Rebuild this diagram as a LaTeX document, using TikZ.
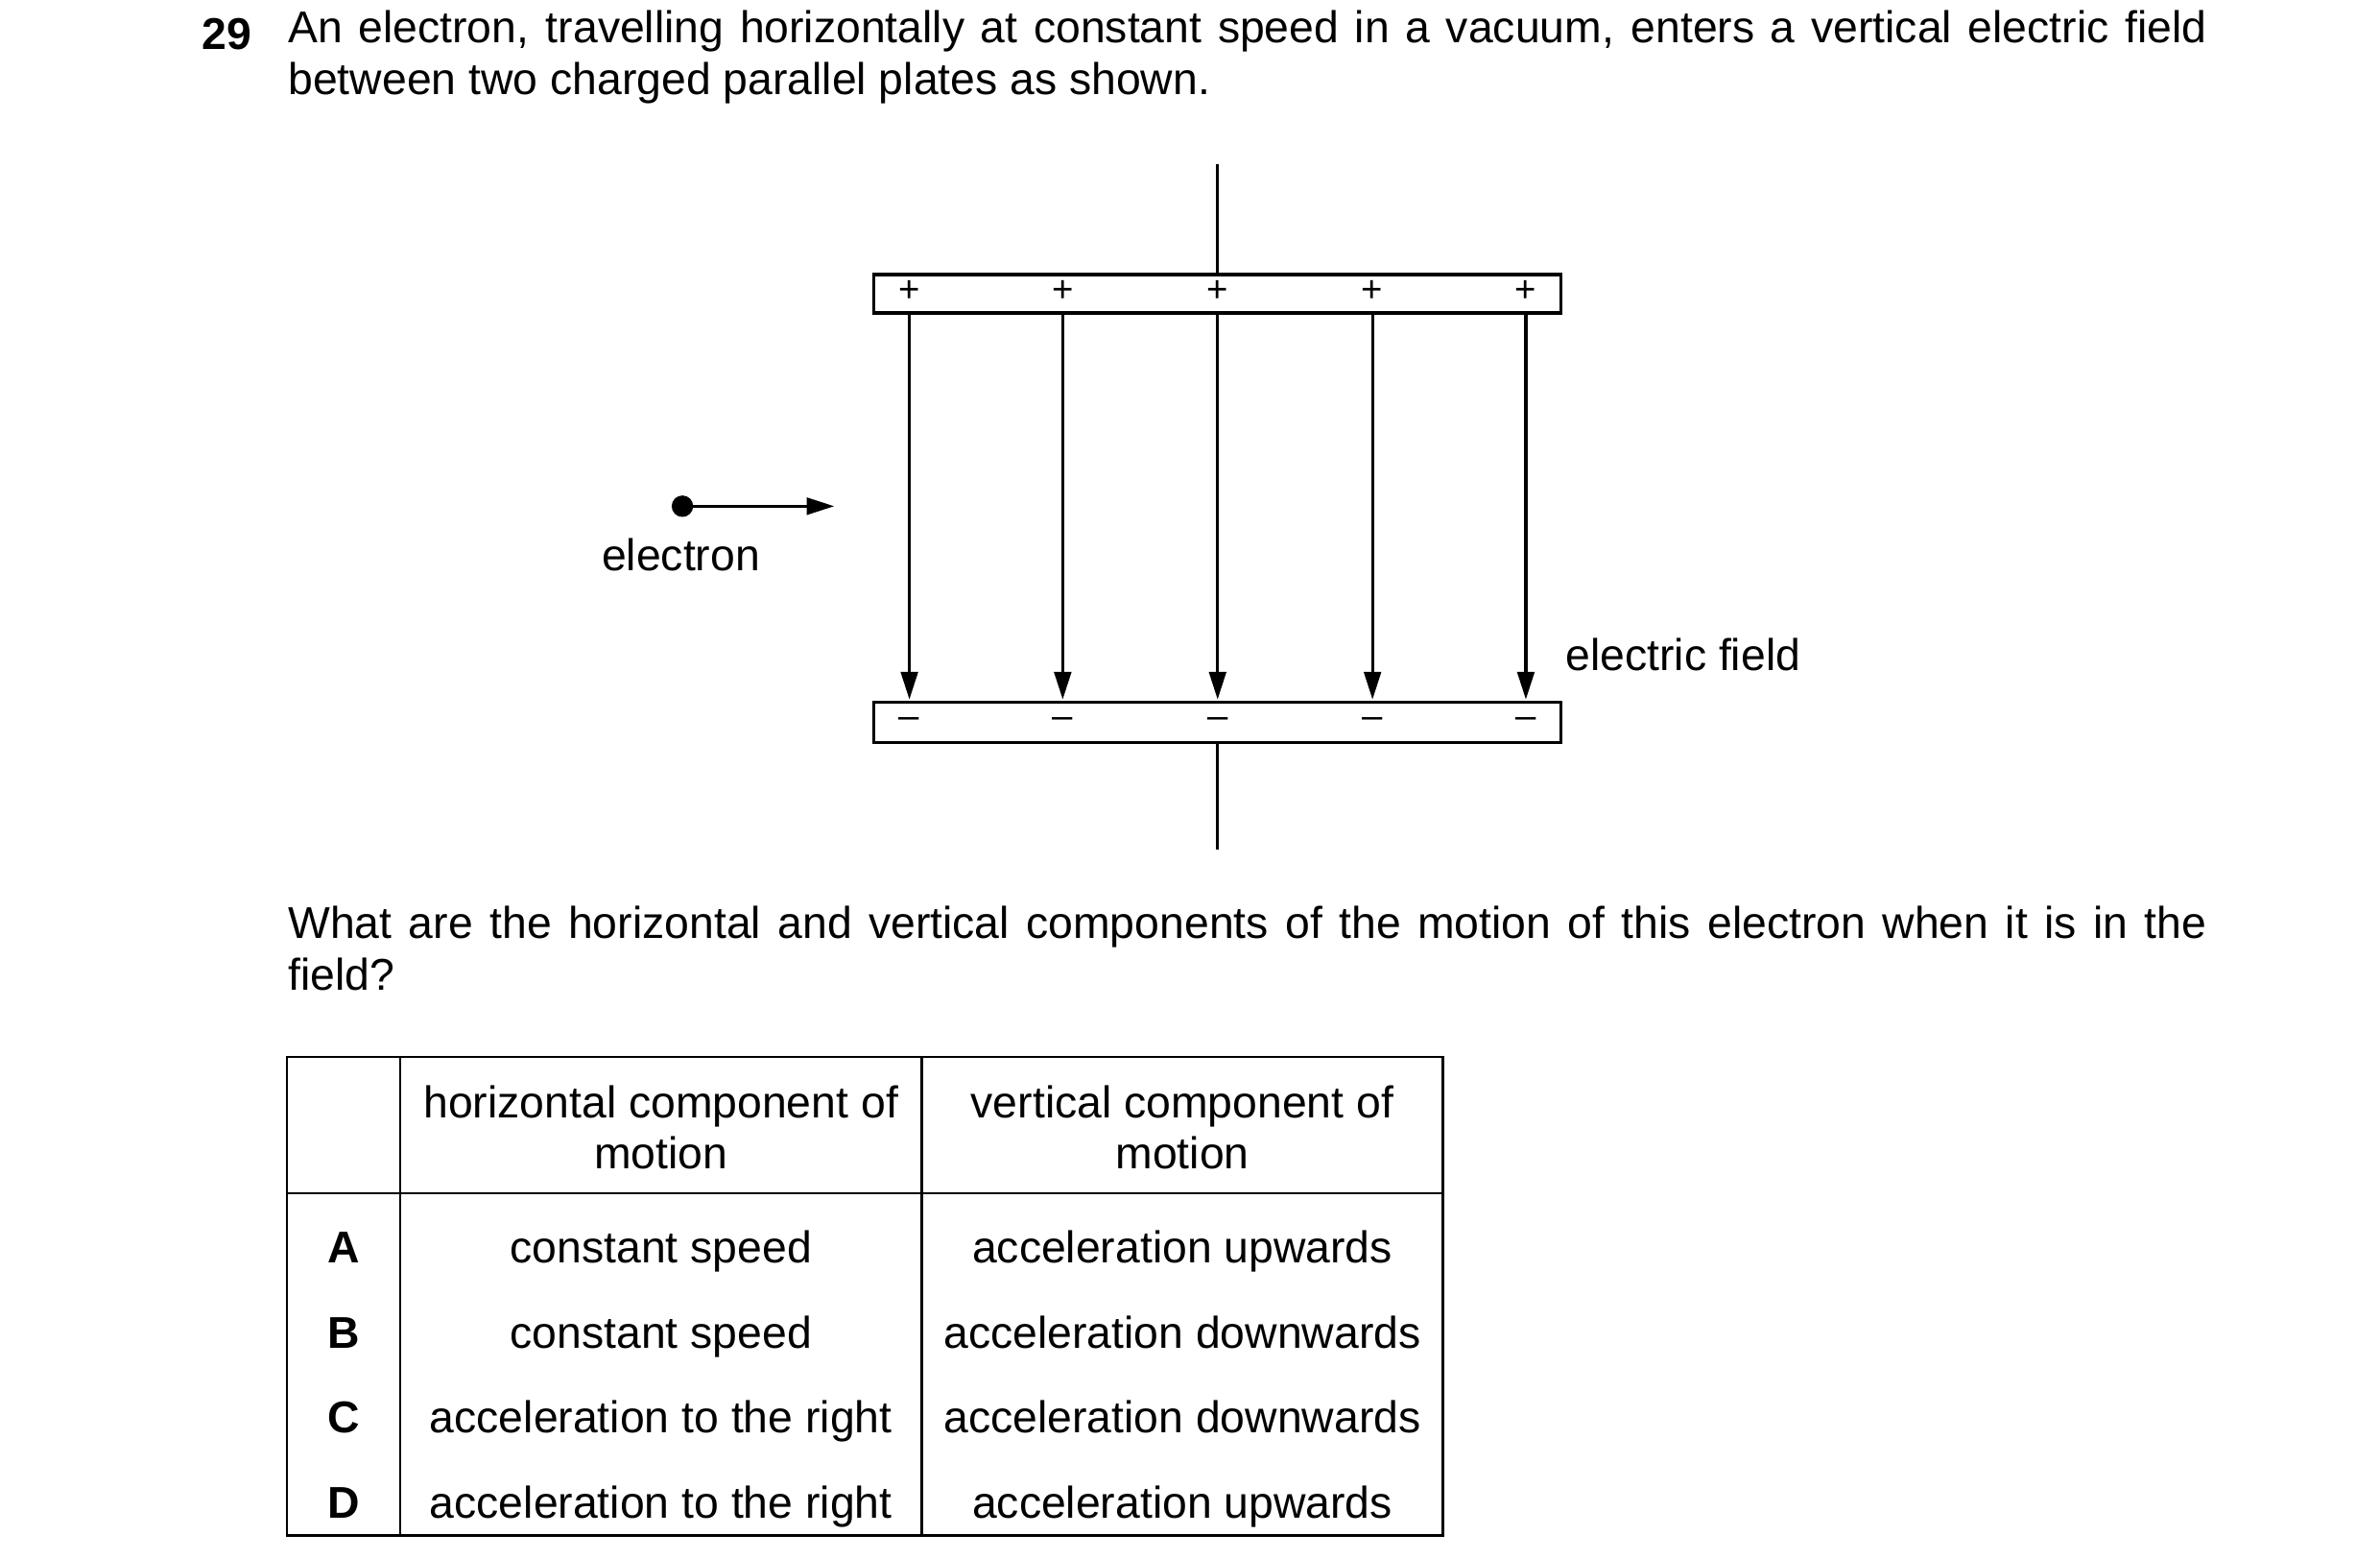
\documentclass[tikz,border=0pt]{standalone}
\usepackage{fontspec}
\setmainfont{Liberation Sans}
\usetikzlibrary{arrows.meta}
\begin{document}
\begin{tikzpicture}[x=1pt,y=-1pt,line width=2pt,
 txt/.style={inner sep=0pt,font=\fontsize{29}{33.5}\selectfont},
 fl/.style={-{Triangle[length=18pt,width=11pt]}},
 sg/.style={inner sep=0pt,font=\fontsize{24}{24}\selectfont}]
\useasboundingbox (0,0) rectangle (1552,1016);
\node[txt,font=\fontsize{29}{33.5}\selectfont\bfseries,anchor=base west] (num) at (131,32) {29};
\node[txt,anchor=north west,text width=1251pt,align=justify] (intro) at (187,6) {An electron, travelling horizontally at constant speed in a vacuum, enters a vertical electric field between two charged parallel plates as shown.};
\draw (570,179) rectangle (1018,204);
\draw (570,458) rectangle (1018,484);
\coordinate (wt) at (794,107); \coordinate (wb) at (794,179);
\draw (wt) -- (wb);
\coordinate (bt) at (794,484); \coordinate (bb) at (794,554);
\draw (bt) -- (bb);
\foreach \x [count=\i] in {593,693,794,895,995}{
 \node[sg] (p\i) at (\x,190) {+};
 \node[sg] (m\i) at (\x,471) {--};
 \coordinate (s\i) at (\x,204); \coordinate (e\i) at (\x,456);
 \draw[fl] (s\i) -- (e\i);
}
\fill (445,330) circle (7pt);
\coordinate (ea) at (445,330); \coordinate (eb) at (544,330);
\draw[-{Triangle[length=18pt,width=11pt]}] (ea) -- (eb);
\node[txt,anchor=base] (el) at (444,372) {electron};
\node[txt,anchor=base west] (ef) at (1020,437) {electric field};
\node[txt,anchor=north west,text width=1251pt,align=justify] (q) at (187,590) {What are the horizontal and vertical components of the motion of this electron when it is in the\linebreak field?};
\draw[line width=1.5pt] (187,689) rectangle (941,1001);
\draw[line width=1.5pt] (261,689) -- (261,1001);
\draw[line width=1.5pt] (601,689) -- (601,1001);
\draw[line width=1.5pt] (187,778) -- (941,778);
\node[txt,align=center] (h1) at (431,735) {horizontal component of\\motion};
\node[txt,align=center] (h2) at (771,735) {vertical component of\\motion};
\foreach \l/\a/\b/\y in {A/constant speed/acceleration upwards/823,B/constant speed/acceleration downwards/879,C/acceleration to the right/acceleration downwards/934,D/acceleration to the right/acceleration upwards/990}{
 \node[txt,font=\fontsize{29}{33.5}\selectfont\bfseries,anchor=base] (l\l) at (224,\y) {\l};
 \node[txt,anchor=base] (a\l) at (431,\y) {\a};
 \node[txt,anchor=base] (b\l) at (771,\y) {\b};
}
\end{tikzpicture}
\end{document}
